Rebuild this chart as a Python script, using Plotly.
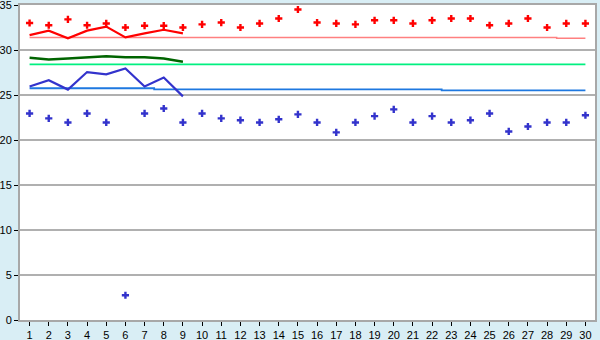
import plotly.graph_objects as go

days = list(range(1, 31))
high_pts = [33.0, 32.75, 33.4, 32.75, 32.95, 32.5, 32.7, 32.7, 32.5, 32.85,
            33.05, 32.5, 32.95, 33.5, 34.5, 33.05, 32.95, 32.85, 33.3, 33.3,
            32.95, 33.3, 33.5, 33.5, 32.75, 32.95, 33.5, 32.5, 32.95, 32.95]
low_pts = [22.95, 22.4, 21.95, 22.95, 21.95, 2.75, 22.95, 23.5, 21.95, 22.95,
           22.4, 22.2, 21.95, 22.3, 22.85, 21.95, 20.85, 21.95, 22.65, 23.4,
           21.95, 22.65, 21.95, 22.2, 22.95, 20.95, 21.5, 21.95, 21.95, 22.75]
line_days = list(range(1, 10))
high_line = [31.65, 32.15, 31.3, 32.15, 32.6, 31.4, 31.85, 32.25, 31.85]
mid_line = [29.15, 28.95, 29.05, 29.2, 29.3, 29.2, 29.2, 29.05, 28.7]
low_line = [25.95, 26.65, 25.6, 27.55, 27.3, 27.95, 25.95, 26.95, 24.85]
high_ref = [31.4] * 28 + [31.3] * 2
mid_ref = [28.4] * 30
low_ref = [25.75] * 7 + [25.63] * 15 + [25.52] * 8
y_ticks = [0, 5, 10, 15, 20, 25, 30, 35]

fig = go.Figure()
fig.add_trace(go.Scatter(x=days, y=high_ref, mode="lines", line=dict(color="#FF8080", width=1.5, shape="hvh")))
fig.add_trace(go.Scatter(x=days, y=mid_ref, mode="lines", line=dict(color="#00F080", width=1.8)))
fig.add_trace(go.Scatter(x=days, y=low_ref, mode="lines", line=dict(color="#1E78E0", width=1.8, shape="hvh")))
fig.add_trace(go.Scatter(x=line_days, y=high_line, mode="lines", line=dict(color="#FF0000", width=2.2)))
fig.add_trace(go.Scatter(x=line_days, y=mid_line, mode="lines", line=dict(color="#006400", width=2.5)))
fig.add_trace(go.Scatter(x=line_days, y=low_line, mode="lines", line=dict(color="#3333CC", width=2.2)))
fig.add_trace(go.Scatter(x=days, y=high_pts, mode="markers",
                         marker=dict(symbol="cross", size=6, color="#FF0000", line=dict(width=0))))
fig.add_trace(go.Scatter(x=days, y=low_pts, mode="markers",
                         marker=dict(symbol="cross", size=6, color="#3333CC", line=dict(width=0))))

fig.update_layout(
    width=600, height=340,
    margin=dict(l=20, r=5, t=5, b=20, autoexpand=False),
    paper_bgcolor="#D9EEF5", plot_bgcolor="#FFFFFF",
    showlegend=False,
    font=dict(family="Liberation Sans", size=11, color="#000000"),
)
fig.update_xaxes(range=[0.5, 30.5], tickmode="array", tickvals=days, ticktext=[str(d) for d in days],
                 ticks="outside", ticklen=4, tickcolor="#000000", showgrid=False, automargin=False,
                 ticklabeloverflow="allow",
                 showline=True, linecolor="#A8A8A8", linewidth=2, mirror=True, zeroline=False)
fig.update_yaxes(range=[0, 35], tickmode="array", tickvals=y_ticks, ticks="outside", ticklen=4,
                 tickcolor="#000000", showgrid=True, gridcolor="#B0B0B0", gridwidth=1.5, automargin=False,
                 ticklabeloverflow="allow",
                 showline=True, linecolor="#A8A8A8", linewidth=2, mirror=True, zeroline=False)

fig.write_html("out.html")
